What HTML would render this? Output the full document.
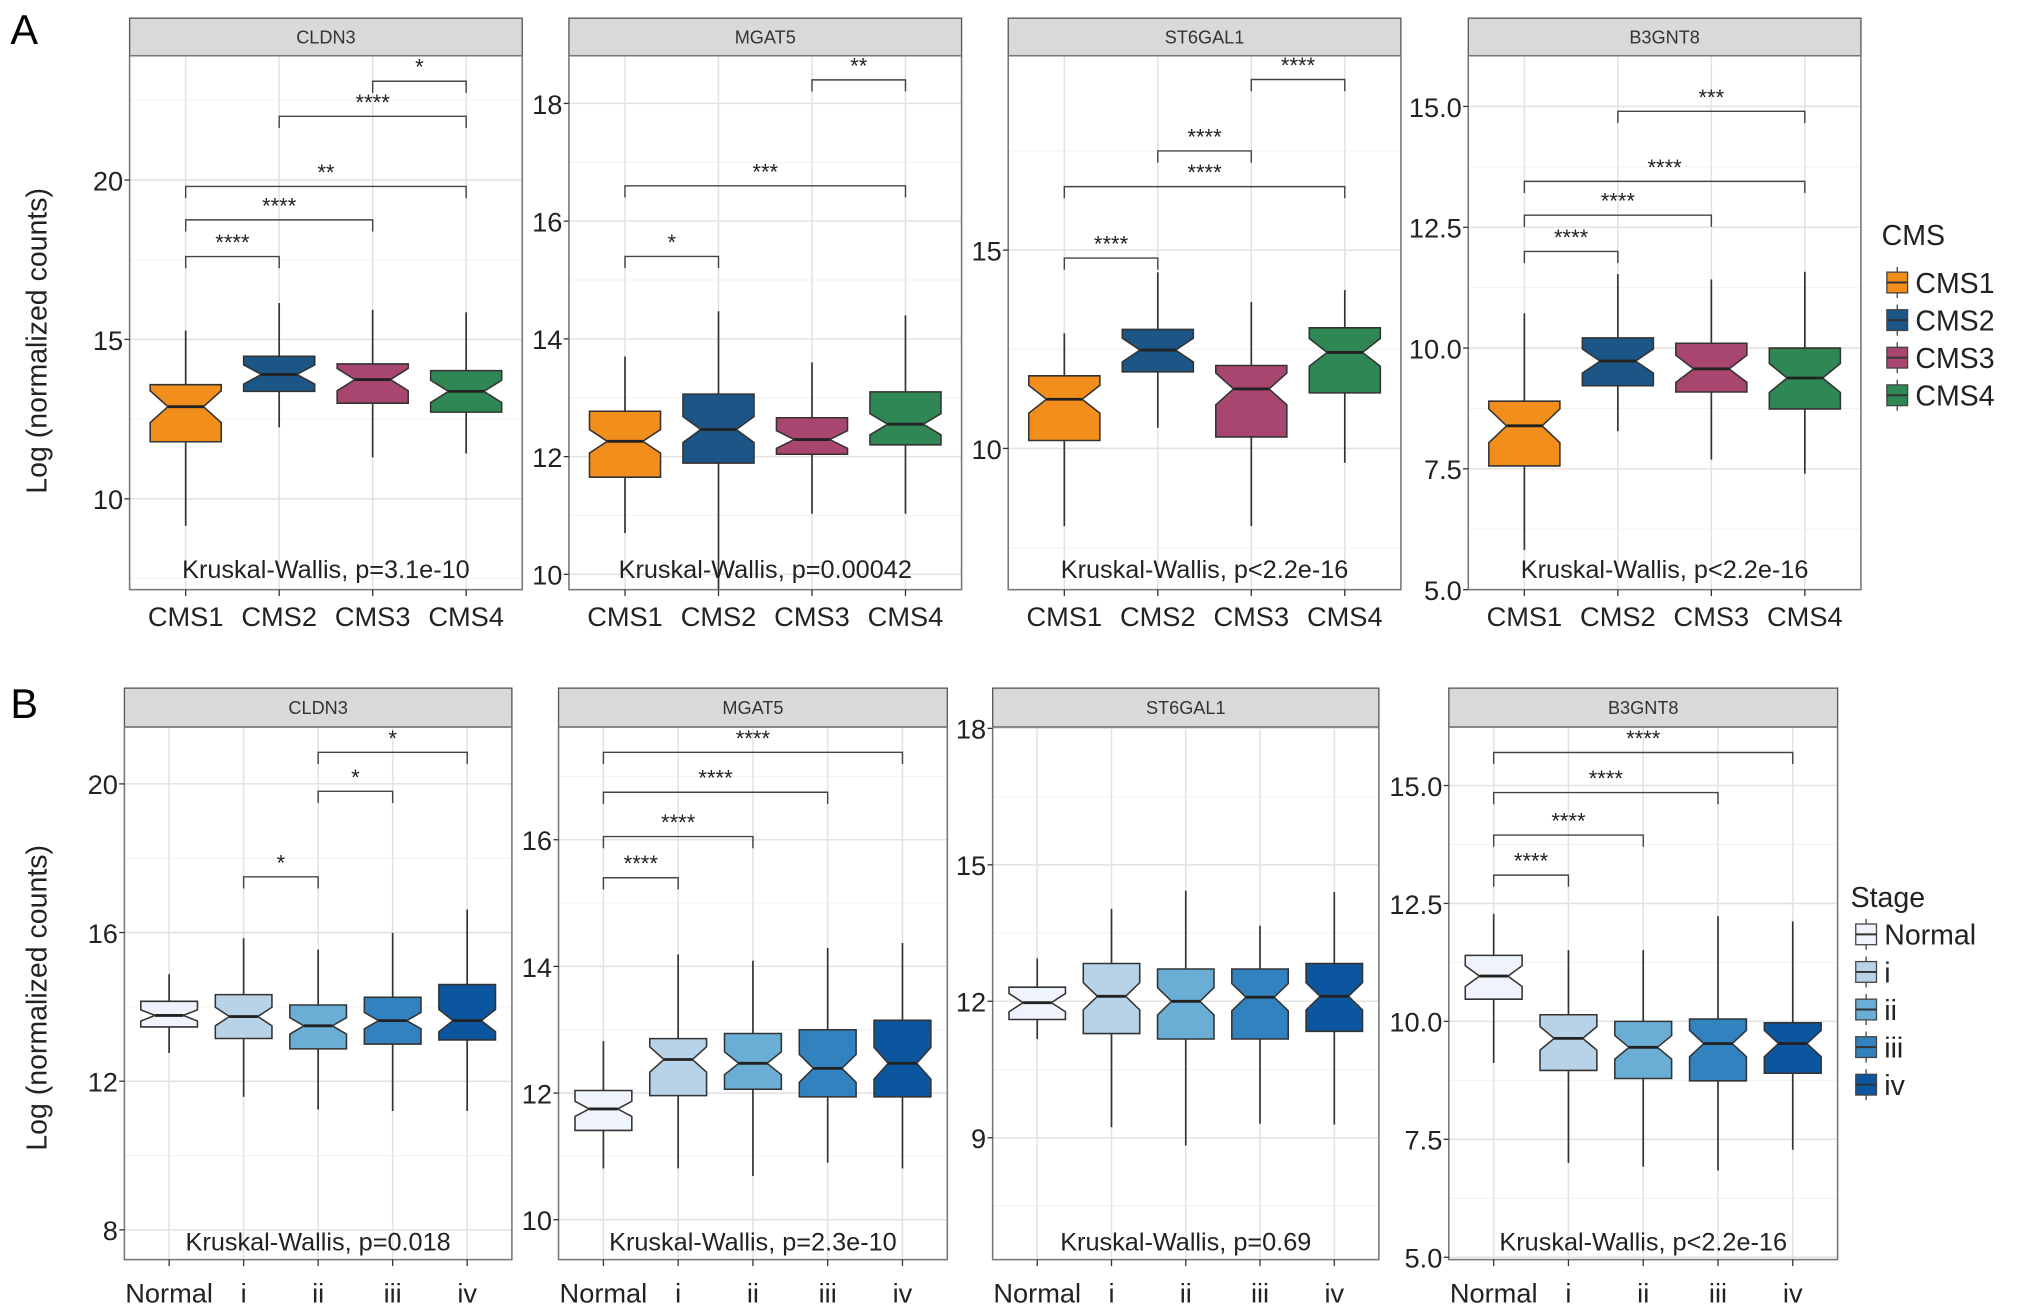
<!DOCTYPE html>
<html><head><meta charset="utf-8">
<style>
html,body{margin:0;padding:0;background:#fff;}
svg{display:block;font-family:"Liberation Sans",sans-serif;}
</style></head>
<body>
<svg id="fig" width="2032" height="1316" viewBox="0 0 1568 1015.5" xmlns="http://www.w3.org/2000/svg">
<rect width="1568" height="1015.5" fill="#fff"/>
<text x="8" y="34" font-size="32">A</text>
<text x="8" y="554" font-size="32">B</text>
<text transform="translate(36,263) rotate(-90)" text-anchor="middle" font-size="22" fill="#222">Log (normalized counts)</text>
<text transform="translate(36,770) rotate(-90)" text-anchor="middle" font-size="22" fill="#222">Log (normalized counts)</text>
</svg>
<script>
// ---- data ----
const cmsCats = ["CMS1","CMS2","CMS3","CMS4"];
const stageCats = ["Normal","i","ii","iii","iv"];
const cmsColors = ["#f28e1c","#1b5686","#a8466f","#2f8755"];
const stageColors = ["#eff3fb","#b8d3e7","#6aaed6","#3282bf","#0c56a0"];
const genes = ["CLDN3","MGAT5","ST6GAL1","B3GNT8"];

// [lo, q1, median, q3, hi] per category
const a1Stats = [[9.15,11.79,12.89,13.58,15.28],[12.24,13.37,13.9,14.47,16.14],[11.3,13.0,13.74,14.23,15.93],[11.42,12.72,13.37,14.02,15.85]];
const a2Stats = [[10.7,11.65,12.26,12.77,13.7],[9.75,11.89,12.46,13.06,14.47],[11.03,12.04,12.29,12.66,13.6],[11.03,12.2,12.55,13.1,14.4]];
const a3Stats = [[8.04,10.2,11.24,11.83,12.9],[10.52,11.93,12.48,13.0,14.44],[8.04,10.29,11.5,12.09,13.69],[9.64,11.4,12.42,13.04,13.99]];
const a4Stats = [[5.82,7.56,8.39,8.9,10.72],[8.28,9.22,9.73,10.21,11.53],[7.69,9.09,9.57,10.1,11.42],[7.4,8.74,9.38,10.0,11.58]];
const b1Stats = [[12.76,13.46,13.77,14.15,14.88],[11.58,13.15,13.74,14.33,15.85],[11.24,12.87,13.49,14.05,15.54],[11.2,13.0,13.63,14.26,15.99],[11.2,13.11,13.63,14.6,16.62]];
const b2Stats = [[10.81,11.41,11.75,12.04,12.82],[10.81,11.96,12.53,12.86,14.19],[10.69,12.06,12.47,12.94,14.09],[10.9,11.94,12.39,13.0,14.29],[10.81,11.94,12.47,13.15,14.37]];
const b3Stats = [[11.17,11.6,11.97,12.31,12.94],[9.23,11.29,12.11,12.83,14.03],[8.83,11.17,12.0,12.71,14.43],[9.31,11.17,12.09,12.71,13.66],[9.29,11.34,12.11,12.83,14.4]];
const b4Stats = [[9.12,10.47,10.96,11.4,12.28],[7.0,8.96,9.64,10.14,11.51],[6.92,8.79,9.45,10.0,11.51],[6.84,8.74,9.53,10.05,12.23],[7.28,8.9,9.53,9.97,12.12]];
// notch half-width in data units
const a1Notch = [0.5,0.3,0.35,0.35];
const a2Notch = [0.2,0.22,0.15,0.18];
const a3Notch = [0.35,0.3,0.4,0.35];
const a4Notch = [0.35,0.25,0.28,0.3];
const b1Notch = [0.15,0.25,0.22,0.22,0.3];
const b2Notch = [0.12,0.2,0.18,0.22,0.25];
const b3Notch = [0.2,0.3,0.3,0.3,0.3];
const b4Notch = [0.22,0.25,0.25,0.28,0.28];

const a1Ticks = [10,15,20];
const a2Ticks = [10,12,14,16,18];
const a3Ticks = [10,15];
const a4Ticks = [5.0,7.5,10.0,12.5,15.0];
const b1Ticks = [8,12,16,20];
const b2Ticks = [10,12,14,16];
const b3Ticks = [9,12,15,18];
const b4Ticks = [5.0,7.5,10.0,12.5,15.0];

// comparisons: [from index, to index, label, bracket value]
const a1Comp = [[0,1,"****",17.6],[0,2,"****",18.75],[0,3,"**",19.8],[1,3,"****",22.0],[2,3,"*",23.1]];
const a2Comp = [[0,1,"*",15.4],[0,3,"***",16.6],[2,3,"**",18.4]];
const a3Comp = [[0,1,"****",14.8],[0,3,"****",16.6],[1,2,"****",17.5],[2,3,"****",19.3]];
const a4Comp = [[0,1,"****",12.0],[0,2,"****",12.75],[0,3,"****",13.45],[1,3,"***",14.9]];
const b1Comp = [[1,2,"*",17.5],[2,3,"*",19.8],[2,4,"*",20.85]];
const b2Comp = [[0,1,"****",15.4],[0,2,"****",16.05],[0,3,"****",16.75],[0,4,"****",17.38]];
const b4Comp = [[0,1,"****",13.1],[0,2,"****",13.95],[0,3,"****",14.85],[0,4,"****",15.7]];

const kwLabels = ["Kruskal-Wallis, p=3.1e-10","Kruskal-Wallis, p=0.00042","Kruskal-Wallis, p<2.2e-16","Kruskal-Wallis, p<2.2e-16",
                  "Kruskal-Wallis, p=0.018","Kruskal-Wallis, p=2.3e-10","Kruskal-Wallis, p=0.69","Kruskal-Wallis, p<2.2e-16"];

// ---- layout ----
const NS = "http://www.w3.org/2000/svg";
const svg = document.getElementById("fig");
function mk(tag, attrs, parent){
  const e = document.createElementNS(NS, tag);
  for (const k in attrs) e.setAttribute(k, attrs[k]);
  (parent||svg).appendChild(e);
  return e;
}
const panels = [
  {x0:100,x1:403,st:14,y0:43,y1:455,dom:[7.15,23.9],cats:cmsCats,cols:cmsColors,stats:a1Stats,notch:a1Notch,ticks:a1Ticks,comp:a1Comp,dec:0,g:0,kwY:446,xlY:483},
  {x0:439,x1:742,st:14,y0:43,y1:455,dom:[9.74,18.81],cats:cmsCats,cols:cmsColors,stats:a2Stats,notch:a2Notch,ticks:a2Ticks,comp:a2Comp,dec:0,g:1,kwY:446,xlY:483},
  {x0:778,x1:1081,st:14,y0:43,y1:455,dom:[6.44,19.9],cats:cmsCats,cols:cmsColors,stats:a3Stats,notch:a3Notch,ticks:a3Ticks,comp:a3Comp,dec:0,g:2,kwY:446,xlY:483},
  {x0:1133,x1:1436,st:14,y0:43,y1:455,dom:[5.0,16.05],cats:cmsCats,cols:cmsColors,stats:a4Stats,notch:a4Notch,ticks:a4Ticks,comp:a4Comp,dec:1,g:3,kwY:446,xlY:483},
  {x0:96,x1:395,st:531,y0:561,y1:972,dom:[7.2,21.53],cats:stageCats,cols:stageColors,stats:b1Stats,notch:b1Notch,ticks:b1Ticks,comp:b1Comp,dec:0,g:0,kwY:965,xlY:1005},
  {x0:431,x1:731,st:531,y0:561,y1:972,dom:[9.37,17.78],cats:stageCats,cols:stageColors,stats:b2Stats,notch:b2Notch,ticks:b2Ticks,comp:b2Comp,dec:0,g:1,kwY:965,xlY:1005},
  {x0:766,x1:1064,st:531,y0:561,y1:972,dom:[6.32,18.03],cats:stageCats,cols:stageColors,stats:b3Stats,notch:b3Notch,ticks:b3Ticks,comp:[],dec:0,g:2,kwY:965,xlY:1005},
  {x0:1118,x1:1418,st:531,y0:561,y1:972,dom:[4.95,16.24],cats:stageCats,cols:stageColors,stats:b4Stats,notch:b4Notch,ticks:b4Ticks,comp:b4Comp,dec:1,g:3,kwY:965,xlY:1005}
];

panels.forEach((p, pi) => {
  const grp = mk("g", {});
  
  
  const n = p.cats.length;
  const step = (p.x1 - p.x0) / (n + 0.2);
  const xs = i => p.x0 + step * (0.6 + i);
  const ys = v => p.y1 - (v - p.dom[0]) / (p.dom[1] - p.dom[0]) * (p.y1 - p.y0);
  // strip
  const strip = mk("rect", {x:p.x0, y:p.st, width:p.x1-p.x0, height:p.y0-p.st, fill:"#d9d9d9", stroke:"#555", "stroke-width":1}, grp);
  
  
  const st = mk("text", {x:(p.x0+p.x1)/2, y:(p.st+p.y0)/2+5, "text-anchor":"middle", "font-size":14, fill:"#333"}, grp);
  st.textContent = genes[p.g];
  
  
  // grid
  const tstep = p.ticks[1] - p.ticks[0];
  for (let v = p.ticks[0] - tstep/2; v < p.dom[1] + tstep; v += tstep/2) {
    if (v < p.dom[0] || v > p.dom[1]) continue;
    const major = p.ticks.some(t => Math.abs(t - v) < 1e-6);
    mk("line", {x1:p.x0, x2:p.x1, y1:ys(v), y2:ys(v), stroke: major ? "#e3e3e3" : "#f2f2f2", "stroke-width": major ? 1.2 : 0.8}, grp);
  }
  for (let i = 0; i < n; i++) mk("line", {x1:xs(i), x2:xs(i), y1:p.y0, y2:p.y1, stroke:"#e3e3e3", "stroke-width":1.2}, grp);
  // boxes
  const bw = step * 0.38;
  p.stats.forEach((s, i) => {
    const [lo, q1, md, q3, hi] = s;
    const cx = xs(i), nh = p.notch[i];
    const box = mk("g", {}, grp);
    
    
    mk("line", {x1:cx, x2:cx, y1:ys(hi), y2:ys(q3), stroke:"#333", "stroke-width":1.3}, box);
    mk("line", {x1:cx, x2:cx, y1:ys(q1), y2:ys(lo), stroke:"#333", "stroke-width":1.3}, box);
    const nt = Math.min(q3, md + nh), nb = Math.max(q1, md - nh);
    const d = `M${cx-bw},${ys(q3)} L${cx+bw},${ys(q3)} L${cx+bw},${ys(nt)} L${cx+bw/2},${ys(md)} L${cx+bw},${ys(nb)} L${cx+bw},${ys(q1)} L${cx-bw},${ys(q1)} L${cx-bw},${ys(nb)} L${cx-bw/2},${ys(md)} L${cx-bw},${ys(nt)} Z`;
    mk("path", {d:d, fill:p.cols[i], stroke:"#333", "stroke-width":1.2}, box);
    mk("line", {x1:cx-bw/2, x2:cx+bw/2, y1:ys(md), y2:ys(md), stroke:"#222", "stroke-width":2.2}, box);
  });
  // brackets
  p.comp.forEach(c => {
    const [a, b, lab, v] = c;
    const y = ys(v);
    const br = mk("g", {}, grp);
    
    
    mk("path", {d:`M${xs(a)},${y+9} L${xs(a)},${y} L${xs(b)},${y} L${xs(b)},${y+9}`, fill:"none", stroke:"#444", "stroke-width":1.1}, br);
    const t = mk("text", {x:(xs(a)+xs(b))/2, y:y-5, "text-anchor":"middle", "font-size":17, fill:"#222"}, br);
    t.textContent = lab;
  });
  // border
  const bd = mk("rect", {x:p.x0, y:p.y0, width:p.x1-p.x0, height:p.y1-p.y0, fill:"none", stroke:"#777", "stroke-width":1.2}, grp);
  
  
  // y ticks
  p.ticks.forEach(t => {
    const y = ys(t);
    mk("line", {x1:p.x0-4, x2:p.x0, y1:y, y2:y, stroke:"#333", "stroke-width":1}, grp);
    const tl = mk("text", {x:p.x0-5, y:y+8, "text-anchor":"end", "font-size":21, fill:"#222"}, grp);
    tl.textContent = t.toFixed(p.dec);
    
    
  });
  // x ticks
  p.cats.forEach((c, i) => {
    mk("line", {x1:xs(i), x2:xs(i), y1:p.y1, y2:p.y1+5, stroke:"#333", "stroke-width":1}, grp);
    const xl = mk("text", {x:xs(i), y:p.xlY, "text-anchor":"middle", "font-size":21, fill:"#222"}, grp);
    xl.textContent = c;
    
    
  });
  const kw = mk("text", {x:(p.x0+p.x1)/2, y:p.kwY, "text-anchor":"middle", "font-size":19.5, fill:"#222"}, grp);
  kw.textContent = kwLabels[pi];
  
  
});

// legends
function legend(title, cats, cols, x, ty, y0, dy, nm){
  const g = mk("g", {});
  
  
  const t = mk("text", {x:x, y:ty, "font-size":22, fill:"#222"}, g);
  t.textContent = title;
  cats.forEach((c, i) => {
    const y = y0 + i * dy;
    const e = mk("g", {}, g);
    
    
    mk("line", {x1:x+12, x2:x+12, y1:y-12, y2:y+12, stroke:"#444", "stroke-width":1}, e);
    mk("rect", {x:x+4, y:y-8, width:16, height:16, fill:cols[i], stroke:"#444", "stroke-width":1}, e);
    mk("line", {x1:x+4, x2:x+20, y1:y, y2:y, stroke:"#333", "stroke-width":1.5}, e);
    const l = mk("text", {x:x+26, y:y+8, "font-size":22, fill:"#222"}, e);
    l.textContent = c;
  });
}
legend("CMS", cmsCats, cmsColors, 1452, 189, 218, 29, "legend-cms");
legend("Stage", stageCats, stageColors, 1428, 700, 721, 29, "legend-stage");
</script>
</body></html>
